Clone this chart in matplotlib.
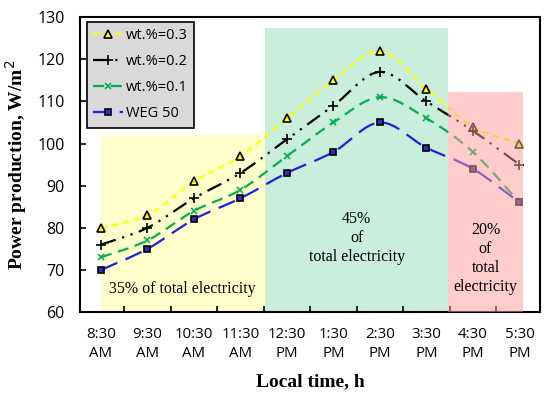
import matplotlib
matplotlib.use("Agg")
import matplotlib.pyplot as plt
import numpy as np
from matplotlib.path import Path
from matplotlib.patches import PathPatch, Rectangle

times = ["8:30\nAM", "9:30\nAM", "10:30\nAM", "11:30\nAM", "12:30\nPM",
         "1:30\nPM", "2:30\nPM", "3:30\nPM", "4:30\nPM", "5:30\nPM"]
wt03 = [80, 83, 91, 97, 106, 115, 122, 113, 104, 100]
wt02 = [76, 80, 87, 93, 101, 109, 117, 110, 103, 95]
wt01 = [73, 77, 84, 89, 97, 105, 111, 106, 98, 86]
weg50 = [70, 75, 82, 87, 93, 98, 105, 99, 94, 86]

# shaded periods: (x start, x end, top value, colour)
periods = [(0.0, 3.53, 102, "#ffffcc"),
           (3.53, 7.46, 127.4, "#c9eedb"),
           (7.46, 9.07, 112.2, "#ffc9c9")]


def smooth_path(x, y):
    # Catmull-Rom segments as cubic Bezier curves (like Excel smoothed lines)
    pts = np.column_stack([x, y]).astype(float)
    ext = np.vstack([pts[0], pts, pts[-1]])
    verts = [pts[0]]
    codes = [Path.MOVETO]
    for i in range(len(pts) - 1):
        p0, p1, p2, p3 = ext[i], ext[i + 1], ext[i + 2], ext[i + 3]
        verts += [p1 + (p2 - p0) / 6, p2 - (p3 - p1) / 6, p2]
        codes += [Path.CURVE4] * 3
    return Path(verts, codes)


fig = plt.figure(figsize=(5.5, 3.99), dpi=100)
ax = fig.add_axes([0.1455, 0.218, 0.837, 0.739])

x = np.arange(len(times))
ax.set_xlim(-0.45, 9.45)
ax.set_ylim(60, 130)

for x0, x1, top, col in periods[:2]:
    ax.add_patch(Rectangle((x0, 60), x1 - x0, top - 60, facecolor=col,
                           edgecolor="none", zorder=0))
x0, x1, top, col = periods[2]
ax.add_patch(Rectangle((x0, 60), x1 - x0, top - 60, facecolor="#ff9a9a",
                       edgecolor="none", alpha=0.5, zorder=4))

series = [
    ("wt.%=0.3", wt03, "#ffff00", (0, (3, 2)), "^", "#ffff00", 6),
    ("wt.%=0.2", wt02, "#000000", (0, (7, 3, 1, 3, 1, 3)), "+", "#000000", 7),
    ("wt.%=0.1", wt01, "#00b050", (0, (5, 3)), "x", "#00b050", 5),
    ("WEG 50", weg50, "#2020e0", (0, (8, 4)), "s", "#3030c0", 5),
]
for label, vals, col, ls, mk, mfc, ms in series:
    ax.add_patch(PathPatch(smooth_path(x, vals), fill=False, edgecolor=col,
                           linestyle=ls, linewidth=1.6, zorder=2))
    mec = "black" if mk in ("^", "s") else mfc
    ax.plot(x, vals, linestyle="none", marker=mk, markersize=ms,
            markerfacecolor=mfc, markeredgecolor=mec, markeredgewidth=1.2,
            zorder=3)
    ax.plot([], [], color=col, linestyle=ls, linewidth=1.6, marker=mk,
            markersize=ms, markerfacecolor=mfc, markeredgecolor=mec,
            markeredgewidth=1.2, label=label)

ax.text(1.75, 65.5, "35% of total electricity", family="Liberation Serif",
        fontsize=11.5, ha="center", va="center", zorder=5)
ax.text(5.5, 77.5, "45%\nof\ntotal electricity", family="Liberation Serif",
        fontsize=11.5, ha="center", va="center", linespacing=1.25, zorder=5)
ax.text(8.27, 72.8, "20%\nof\ntotal\nelectricity", family="Liberation Serif",
        fontsize=11.5, ha="center", va="center", linespacing=1.25, zorder=5)

ax.set_xticks(x)
ax.set_xticklabels(times, family="Open Sans", fontsize=10.8, linespacing=1.3)
ax.set_xticks(np.arange(0.5, 9, 1), minor=True)
ax.tick_params(axis="x", which="major", length=0, pad=11)
ax.tick_params(axis="x", which="minor", direction="in", length=4, width=1.2)
ax.set_yticks(range(60, 131, 10))
ax.tick_params(axis="y", direction="in", length=4, width=1.2, pad=11)
for lab in ax.get_yticklabels():
    lab.set_family("Open Sans")
    lab.set_fontsize(11.5)

for sp in ax.spines.values():
    sp.set_linewidth(1.5)

ax.set_ylabel("Power production, W/m$^2$", family="Liberation Serif",
              fontsize=14, fontweight="bold", labelpad=6)
ax.set_xlabel("Local time, h", family="Liberation Serif", fontsize=14,
              fontweight="bold", labelpad=9)

leg = ax.legend(loc="upper left", bbox_to_anchor=(0.015, 0.985),
                borderaxespad=0,
                prop={"family": "Open Sans", "size": 10.5},
                fancybox=False, framealpha=1, facecolor="#d9d9d9",
                edgecolor="black", handlelength=2.0, borderpad=0.45,
                labelspacing=0.75, handletextpad=0.2)
leg.get_frame().set_linewidth(1.2)
leg.set_zorder(6)

fig.savefig("out.png", dpi=100)
